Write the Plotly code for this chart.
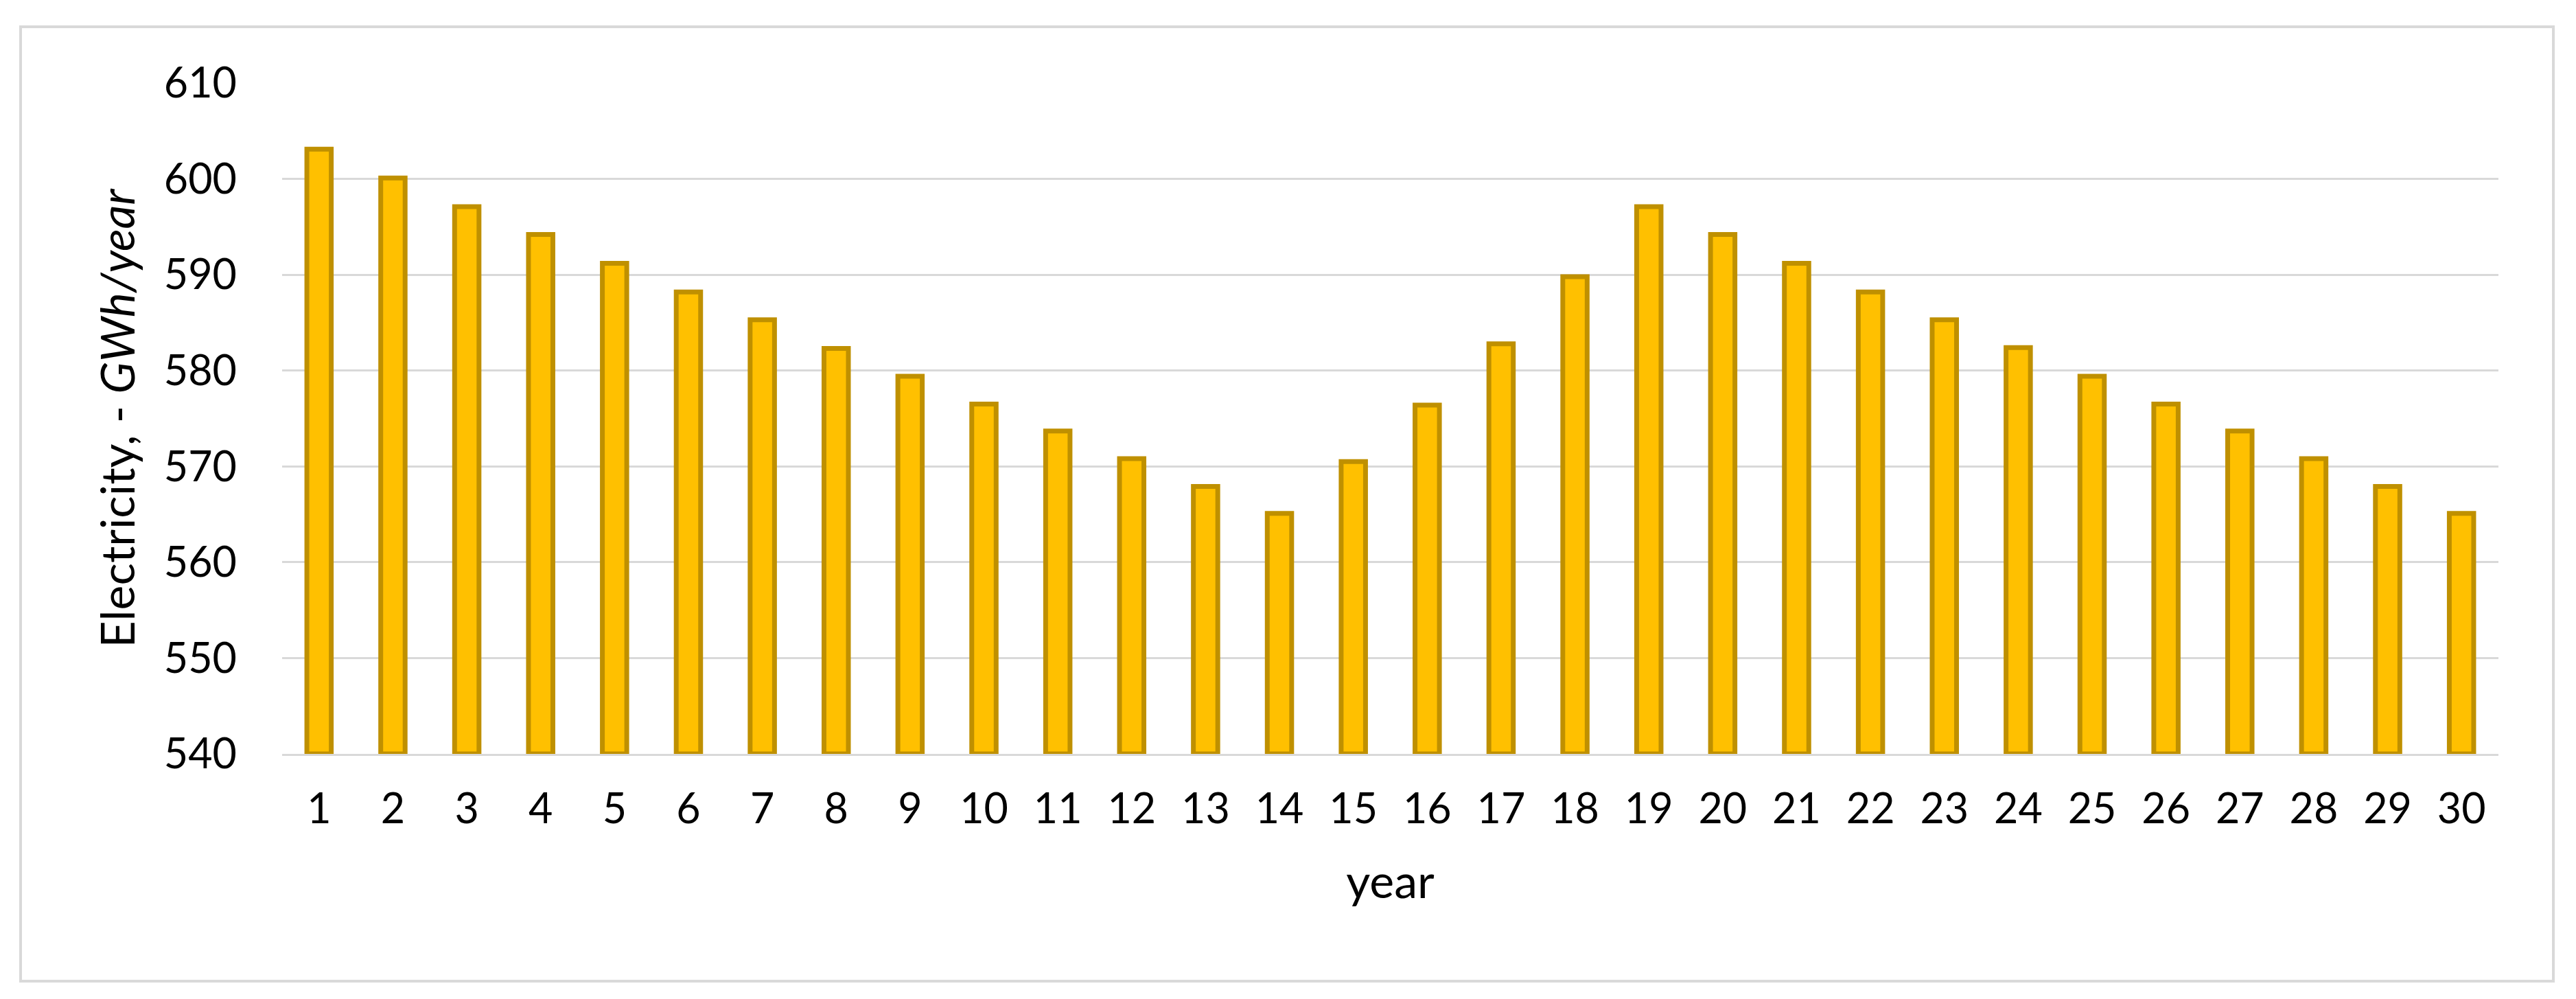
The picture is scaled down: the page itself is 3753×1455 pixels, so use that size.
import plotly.graph_objects as go

years = list(range(1, 31))
electricity = [603.1, 600.1, 597.1, 594.2, 591.2, 588.2, 585.3, 582.3, 579.4, 576.5,
               573.7, 570.8, 567.9, 565.1, 570.5, 576.4, 582.8, 589.8, 597.1, 594.2,
               591.2, 588.2, 585.3, 582.4, 579.4, 576.5, 573.7, 570.8, 567.9, 565.1]
y_ticks = [540, 550, 560, 570, 580, 590, 600, 610]

W, H = 3753, 1455
L, R, T, B = 403, 3632, 113, 1090

FONT = "Lato"
FS = 61
FS_TITLE = 68
fig = go.Figure()
fig.add_trace(go.Bar(
    x=years, y=[v - 540 for v in electricity], base=540,
    width=0.33,
    marker=dict(color="#FFC000", line=dict(color="#BF9000", width=7)),
    hoverinfo="skip",
))

def px2paper_x(px):
    return (px - L) / (R - L)

def px2paper_y(py):
    return (B - py) / (B - T)

fig.add_shape(type="rect", xref="paper", yref="paper",
              x0=px2paper_x(22), x1=px2paper_x(3712),
              y0=px2paper_y(1421), y1=px2paper_y(31),
              line=dict(color="#D9D9D9", width=4), fillcolor="rgba(0,0,0,0)",
              layer="below")

fig.update_layout(
    width=W, height=H,
    margin=dict(l=L, r=W - R, t=T, b=H - B, pad=0),
    paper_bgcolor="white", plot_bgcolor="white",
    showlegend=False,
    font=dict(family=FONT, size=FS, color="#000000"),
)
fig.update_xaxes(
    range=[0.5, 30.5], tickmode="array", tickvals=years,
    ticktext=[str(y) for y in years],
    showgrid=False, zeroline=False,
    showline=True, linecolor="#D9D9D9", linewidth=3, layer="above traces",
    ticks="", ticklabelstandoff=25,
    tickfont=dict(family=FONT, size=FS, color="#000000"),
    title=dict(text="year", font=dict(family=FONT, size=FS_TITLE, color="#000000"), standoff=50),
)
fig.update_yaxes(
    range=[540, 610], tickmode="array", tickvals=y_ticks,
    ticktext=[str(v) for v in y_ticks],
    showgrid=True, gridcolor="#D9D9D9", gridwidth=3,
    zeroline=False, showline=False, ticks="", ticklabelstandoff=65,
    tickfont=dict(family=FONT, size=FS, color="#000000"),
    title=dict(text="Electricity, - <i>GWh/year</i>",
               font=dict(family=FONT, size=FS_TITLE, color="#000000"), standoff=20),
)

fig.write_html("out.html")
